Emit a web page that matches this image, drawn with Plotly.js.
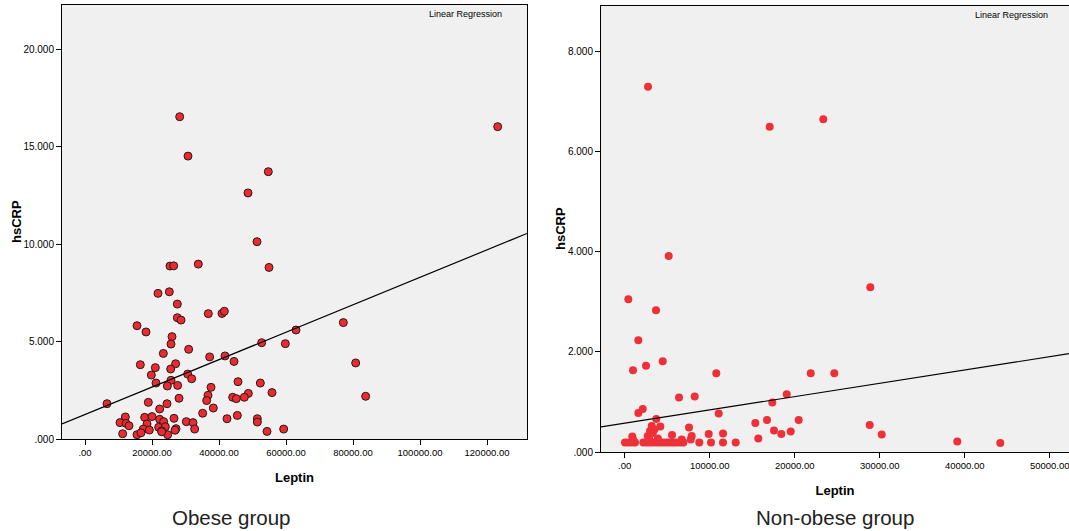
<!DOCTYPE html>
<html>
<head>
<meta charset="utf-8">
<script src="https://cdn.plot.ly/plotly-3.0.1.min.js"></script>
<style>html,body{margin:0;padding:0;background:#fff;}#chart{width:1069px;height:531px;}</style>
</head>
<body>
<div id="chart"></div>
<script>
// ---- Obese group (Leptin vs hsCRP) ----
const obeseLeptin = [28265,123190,30745,54720,48656,51342,25373,26472,33825,54924,
  21790,25169,27558,36812,40895,41590,27558,28656,15522,18209,
  77113,62984,25970,25671,52736,59800,30945,23383,37213,41790,
  44477,80799,16516,27060,20993,25572,19800,30646,31840,25671,
  21194,24572,27657,45671,52338,37611,55820,36716,48755,83780,
  44080,45174,47560,28059,6567,18905,24477,36318,22290,38303,
  35124,12040,17810,19999,26567,42387,45472,51441,51441,10448,
  12239,13134,18507,22290,23482,30248,32238,21990,23980,17412,
  19203,22887,27164,26865,32735,59303,54327,11244,15522,16716,
  24671,22895];
const obeseCRP = [16.53,16.02,14.51,13.71,12.62,10.12,8.87,8.88,8.97,8.80,
  7.47,7.55,6.92,6.43,6.44,6.55,6.22,6.10,5.81,5.49,
  5.97,5.59,5.25,4.87,4.94,4.89,4.60,4.39,4.21,4.26,
  3.98,3.90,3.81,3.86,3.66,3.59,3.28,3.33,3.09,3.01,
  2.87,2.72,2.75,2.94,2.87,2.65,2.38,2.24,2.34,2.19,
  2.14,2.07,2.14,2.09,1.81,1.88,1.81,1.97,1.54,1.59,
  1.32,1.13,1.11,1.15,1.06,1.04,1.21,1.04,0.87,0.84,
  0.80,0.68,0.77,1.01,0.89,0.89,0.84,0.60,0.63,0.51,
  0.46,0.41,0.53,0.45,0.51,0.51,0.39,0.27,0.22,0.32,
  0.22,0.37];
const obeseFit = {intercept: 1.253, slope: 7.04e-5};

// ---- Non-obese group ----
const nonObeseLeptin = [2741,17059,23366,5176,28895,424,3682,1600,4471,2506,
  976,10777,21883,24659,6388,8235,1600,2118,3718,11059,
  17365,19059,15365,16742,20471,17565,18424,19530,15718,4188,
  3176,2976,2706,7565,7882,7765,5565,9882,11565,894,
  6706,28824,30236,39130,44189,
  35,424,824,1212,2188,2588,2976,3365,3765,4153,
  4541,4941,5329,5729,6118,6506,6894,8776,10153,11565,13059,
  3300,3500,3900,2900,1000];
const nonObeseCRP = [7.29,6.49,6.64,3.91,3.29,3.05,2.83,2.23,1.81,1.72,
  1.63,1.57,1.57,1.57,1.09,1.11,0.78,0.86,0.66,0.77,
  0.99,1.15,0.58,0.64,0.64,0.43,0.36,0.41,0.27,0.51,
  0.52,0.42,0.32,0.49,0.32,0.25,0.34,0.36,0.37,0.31,
  0.25,0.54,0.35,0.21,0.18,
  0.19,0.19,0.19,0.19,0.19,0.19,0.19,0.19,0.19,0.19,
  0.19,0.19,0.19,0.19,0.19,0.19,0.19,0.19,0.19,0.19,0.19,
  0.38,0.45,0.27,0.25,0.24];
const nonObeseFit = {intercept: 0.574, slope: 2.655e-5};

// axis ranges & ticks
const x1Range = [-6866, 131940], y1Range = [0, 22.26];
const x2Range = [-2790, 52270], y2Range = [0, 8.9];
const x1Ticks = [0,20000,40000,60000,80000,100000,120000];
const x1Text = ['.00','20000.00','40000.00','60000.00','80000.00','100000.00','120000.00'];
const y1Ticks = [0,5,10,15,20];
const y1Text = ['.000','5.000','10.000','15.000','20.000'];
const x2Ticks = [0,10000,20000,30000,40000,50000];
const x2Text = ['.00','10000.00','20000.00','30000.00','40000.00','50000.00'];
const y2Ticks = [0,2,4,6,8];
const y2Text = ['.000','2.000','4.000','6.000','8.000'];

function fitLine(fit, range){
  return {x: range.slice(), y: range.map(v => fit.intercept + fit.slope*v)};
}
const l1 = fitLine(obeseFit, x1Range);
const l2 = fitLine(nonObeseFit, x2Range);

const FONT = '"Liberation Sans", Arial, sans-serif';
const traces = [
  {type:'scatter', mode:'markers', x:obeseLeptin, y:obeseCRP, xaxis:'x', yaxis:'y',
   marker:{color:'#ec2a30', size:8, line:{color:'#2a1a1a', width:1}}, cliponaxis:false, hoverinfo:'x+y'},
  {type:'scatter', mode:'lines', x:l1.x, y:l1.y, xaxis:'x', yaxis:'y',
   line:{color:'#000', width:1.2}, hoverinfo:'skip'},
  {type:'scatter', mode:'markers', x:nonObeseLeptin, y:nonObeseCRP, xaxis:'x2', yaxis:'y2',
   marker:{color:'#ee3038', size:8}, cliponaxis:false, hoverinfo:'x+y'},
  {type:'scatter', mode:'lines', x:l2.x, y:l2.y, xaxis:'x2', yaxis:'y2',
   line:{color:'#000', width:1.2}, hoverinfo:'skip'}
];

const axCommon = {showgrid:false, zeroline:false, showline:true, linecolor:'#000', linewidth:1,
  ticks:'outside', ticklen:5, tickcolor:'#000', tickwidth:1, tickmode:'array', fixedrange:true,
  ticklabeloverflow:'allow'};

const layout = {
  width:1069, height:531, margin:{l:0,r:0,t:0,b:0},
  paper_bgcolor:'#fff', plot_bgcolor:'#f0f0f0', showlegend:false,
  font:{family:FONT, color:'#000'},
  xaxis: Object.assign({}, axCommon, {domain:[62/1069, 527/1069], range:x1Range, anchor:'y',
    tickvals:x1Ticks, ticktext:x1Text, mirror:true, tickfont:{size:9.5, family:FONT},
    title:{text:'<b>Leptin</b>', font:{size:13, family:FONT}, standoff:15}}),
  yaxis: Object.assign({}, axCommon, {domain:[92/531, 526/531], range:y1Range, anchor:'x',
    tickvals:y1Ticks, ticktext:y1Text, mirror:true, tickfont:{size:10, family:FONT}}),
  xaxis2: Object.assign({}, axCommon, {domain:[601/1069, 1], range:x2Range, anchor:'y2',
    tickvals:x2Ticks, ticktext:x2Text, mirror:true, tickfont:{size:9.5, family:FONT},
    title:{text:'<b>Leptin</b>', font:{size:13, family:FONT}, standoff:15}}),
  yaxis2: Object.assign({}, axCommon, {domain:[79/531, 525/531], range:y2Range, anchor:'x2',
    tickvals:y2Ticks, ticktext:y2Text, mirror:false, tickfont:{size:10, family:FONT}}),
  annotations:[
    {text:'<b>hsCRP</b>', xref:'paper', yref:'paper', x:17/1069, y:1-222/531, textangle:-90,
     xanchor:'center', yanchor:'middle', showarrow:false, font:{size:13, family:FONT, color:'#000'}},
    {text:'<b>hsCRP</b>', xref:'paper', yref:'paper', x:560/1069, y:1-229/531, textangle:-90,
     xanchor:'center', yanchor:'middle', showarrow:false, font:{size:13, family:FONT, color:'#000'}},
    {text:'Linear Regression', xref:'paper', yref:'paper', x:504/1069, y:1-14/531,
     xanchor:'right', yanchor:'middle', showarrow:false, font:{size:9, family:FONT, color:'#000'}},
    {text:'Linear Regression', xref:'paper', yref:'paper', x:1050/1069, y:1-15/531,
     xanchor:'right', yanchor:'middle', showarrow:false, font:{size:9, family:FONT, color:'#000'}},
    {text:'Obese group', xref:'paper', yref:'paper', x:231/1069, y:1-517/531,
     xanchor:'center', yanchor:'middle', showarrow:false, font:{size:20.5, family:FONT, color:'#222'}},
    {text:'Non-obese group', xref:'paper', yref:'paper', x:835/1069, y:1-517/531,
     xanchor:'center', yanchor:'middle', showarrow:false, font:{size:20.5, family:FONT, color:'#222'}}
  ]
};

Plotly.newPlot('chart', traces, layout, {staticPlot:true, displayModeBar:false});
</script>
</body>
</html>
